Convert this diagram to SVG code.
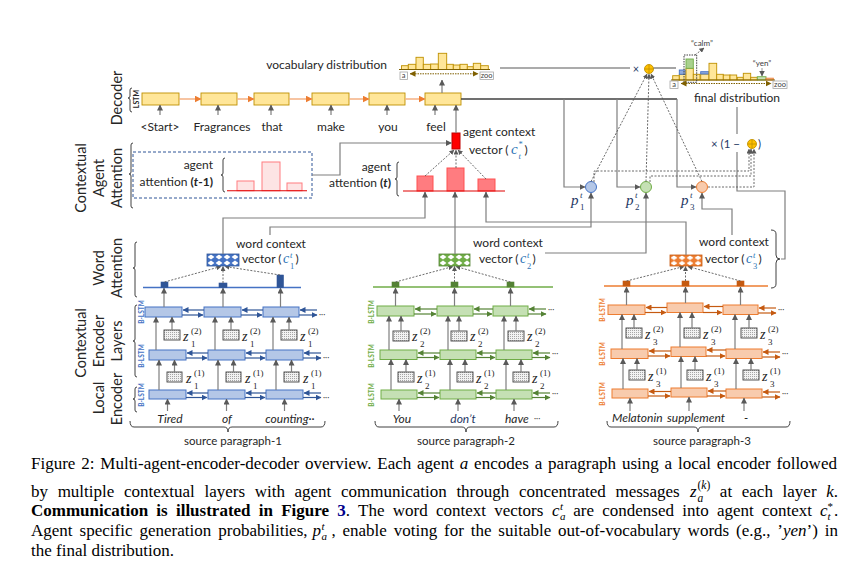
<svg xmlns="http://www.w3.org/2000/svg" width="861" height="582" viewBox="0 0 861 582">
<defs>
<style>
.lb{font-family:Lato,"Liberation Sans",sans-serif;fill:#262626;font-size:12px}
.side{font-size:14.5px;text-anchor:middle}
.it{font-style:italic}
.bl{font-family:Lato,"Liberation Sans",sans-serif;font-weight:bold;font-size:6.5px;text-anchor:middle}
.m{font-family:"Liberation Serif",serif;font-style:italic;font-size:14px;fill:#262626}
.ms{font-family:"Liberation Serif",serif;font-size:9px;font-style:normal}
.cap{font-family:"Liberation Serif","Times New Roman",serif;font-size:17px;fill:#000}
.g{stroke:#7f7f7f;stroke-width:1.2;fill:none}
.ga{stroke:#7f7f7f;stroke-width:1.2;fill:none;marker-end:url(#mg)}
.gd{stroke:#595959;stroke-width:0.9;fill:none;stroke-dasharray:2 1.5;marker-end:url(#md)}
.bx1{fill:#b4c7e7;stroke:#4472c4;stroke-width:1}
.bx2{fill:#c5e0b4;stroke:#70ad47;stroke-width:1}
.bx3{fill:#f8cbad;stroke:#ed7d31;stroke-width:1}
.a1{stroke:#2f5597;stroke-width:1.2;fill:none;marker-end:url(#mb)}
.a2{stroke:#548235;stroke-width:1.2;fill:none;marker-end:url(#mgr)}
.a3{stroke:#c55a11;stroke-width:1.2;fill:none;marker-end:url(#mo)}
.zb{fill:url(#dots);stroke:#404040;stroke-width:0.9}
.yb{fill:#ffe699;stroke:#bf9000;stroke-width:0.9}
.br{fill:none;stroke:#404040;stroke-width:1}
.dots{font-family:Lato,sans-serif;font-size:8px;fill:#404040}
.cb{font-family:"Liberation Serif",serif;font-style:italic;font-size:14px;fill:#2e75b6}
.cs{font-family:"Liberation Serif",serif;font-size:8.5px;fill:#2e75b6}
.pm{font-family:"Liberation Serif",serif;font-style:italic;font-size:15px;fill:#1f3864}
.ps{font-size:9px}
</style>
<marker id="mg" viewBox="0 0 6 6" refX="5.5" refY="3" markerWidth="6" markerHeight="6" markerUnits="userSpaceOnUse" orient="auto"><path d="M0,0 L6,3 L0,6 z" fill="#595959"/></marker>
<marker id="md" viewBox="0 0 6 6" refX="5.5" refY="3" markerWidth="5" markerHeight="5" markerUnits="userSpaceOnUse" orient="auto"><path d="M0,0 L6,3 L0,6 z" fill="#595959"/></marker>
<marker id="mb" viewBox="0 0 6 6" refX="5.5" refY="3" markerWidth="6" markerHeight="6" markerUnits="userSpaceOnUse" orient="auto"><path d="M0,0 L6,3 L0,6 z" fill="#2f5597"/></marker>
<marker id="mgr" viewBox="0 0 6 6" refX="5.5" refY="3" markerWidth="6" markerHeight="6" markerUnits="userSpaceOnUse" orient="auto"><path d="M0,0 L6,3 L0,6 z" fill="#548235"/></marker>
<marker id="mo" viewBox="0 0 6 6" refX="5.5" refY="3" markerWidth="6" markerHeight="6" markerUnits="userSpaceOnUse" orient="auto"><path d="M0,0 L6,3 L0,6 z" fill="#c55a11"/></marker>
<marker id="mor" viewBox="0 0 6 6" refX="5.5" refY="3" markerWidth="7" markerHeight="7" markerUnits="userSpaceOnUse" orient="auto"><path d="M0,0 L6,3 L0,6 z" fill="#ed7d31"/></marker>
<marker id="mbr" viewBox="0 0 6 6" refX="5.5" refY="3" markerWidth="6" markerHeight="6" markerUnits="userSpaceOnUse" orient="auto-start-reverse"><path d="M0,0 L6,3 L0,6 z" fill="#7f6000"/></marker>
<pattern id="pv1" x="207" y="254" width="8" height="6" patternUnits="userSpaceOnUse"><rect width="8" height="6" fill="#4472c4"/><path d="M4,0.6 L7.4,3 L4,5.4 L0.6,3 z" fill="#fff"/></pattern>
<pattern id="pv2" x="439" y="254" width="8" height="6" patternUnits="userSpaceOnUse"><rect width="8" height="6" fill="#70ad47"/><path d="M4,0.6 L7.4,3 L4,5.4 L0.6,3 z" fill="#fff"/></pattern>
<pattern id="pv3" x="670" y="255" width="8" height="5.5" patternUnits="userSpaceOnUse"><rect width="8" height="5.5" fill="#ed7d31"/><path d="M4,0.5 L7.4,2.75 L4,5 L0.6,2.75 z" fill="#fff"/></pattern>
<pattern id="dots" width="2" height="2" patternUnits="userSpaceOnUse"><rect width="2" height="2" fill="#f2f2f2"/><rect width="1" height="1" fill="#a6a6a6"/></pattern>
</defs>
<rect width="861" height="582" fill="#fff"/>

<!-- side labels -->
<g id="side-labels" class="lb">
<text class="lb side" transform="translate(122,98) rotate(-90)">Decoder</text>
<text class="bl" transform="translate(138.5,99) rotate(-90)" style="font-size:7px" fill="#262626">LSTM</text>
<path class="br" d="M132,88 Q130,88 130,90 V96 Q130,98 128,98 Q130,98 130,100 V110 Q130,112 132,112"/>
<text class="lb side" transform="translate(86,178) rotate(-90)">Contextual</text>
<text class="lb side" transform="translate(104,178) rotate(-90)">Agent</text>
<text class="lb side" transform="translate(122,178) rotate(-90)">Attention</text>
<path class="br" d="M133,143 Q131,143 131,145 V172 Q131,174 129,174 Q131,174 131,176 V206 Q131,208 133,208"/>
<text class="lb side" transform="translate(104,268) rotate(-90)">Word</text>
<text class="lb side" transform="translate(122,268) rotate(-90)">Attention</text>
<path class="br" d="M137,242 Q135,242 135,244 V266 Q135,268 133,268 Q135,268 135,270 V295 Q135,297 137,297"/>
<text class="lb side" transform="translate(86,343) rotate(-90)">Contextual</text>
<text class="lb side" transform="translate(104,341) rotate(-90)">Encoder</text>
<text class="lb side" transform="translate(122,341) rotate(-90)">Layers</text>
<path class="br" d="M137,305 Q135,305 135,307 V339 Q135,341 133,341 Q135,341 135,343 V375 Q135,377 137,377"/>
<text class="lb side" transform="translate(104,398) rotate(-90)">Local</text>
<text class="lb side" transform="translate(122,399) rotate(-90)">Encoder</text>
<path class="br" d="M137,387 Q135,387 135,389 V397 Q135,399 133,399 Q135,399 135,401 V410 Q135,412 137,412"/>
</g>

<!-- decoder -->
<g id="decoder">
<rect class="yb" x="142" y="93" width="37" height="12"/>
<rect class="yb" x="201" y="93" width="36" height="12"/>
<rect class="yb" x="254" y="93" width="35" height="12"/>
<rect class="yb" x="312" y="93" width="37" height="12"/>
<rect class="yb" x="369" y="93" width="36" height="12"/>
<rect class="yb" x="425" y="93" width="36" height="12"/>
<g stroke="#f4b183" stroke-width="1.5" fill="none" marker-end="url(#mor)">
<path d="M179,99 H201"/><path d="M237,99 H254"/><path d="M289,99 H312"/><path d="M349,99 H369"/><path d="M405,99 H425"/>
</g>
<g class="lb" text-anchor="middle">
<text x="160" y="131">&lt;Start&gt;</text>
<text x="222" y="131">Fragrances</text>
<text x="272" y="131">that</text>
<text x="331" y="131">make</text>
<text x="388" y="131">you</text>
<text x="436" y="131">feel</text>
</g>
<path class="ga" d="M160,115 V105"/><path class="ga" d="M218,115 V105"/><path class="ga" d="M271,115 V105"/>
<path class="ga" d="M331,115 V105"/><path class="ga" d="M387,115 V105"/><path class="ga" d="M435,115 V105"/>
</g>

<!-- vocabulary distribution -->
<g id="vocab-dist">
<text class="lb" x="387" y="69" text-anchor="end">vocabulary distribution</text>
<rect class="yb" x="401.5" y="65.7" width="6.8" height="3.8"/>
<rect class="yb" x="408.3" y="64.3" width="7.7" height="5.2"/>
<rect class="yb" x="416" y="57.3" width="7.3" height="12.2"/>
<rect class="yb" x="423.3" y="64.3" width="7.4" height="5.2"/>
<rect class="yb" x="430.7" y="64" width="7.6" height="5.5"/>
<rect class="yb" x="438.3" y="53.3" width="8.4" height="16.2"/>
<rect class="yb" x="446.7" y="64.3" width="6.6" height="5.2"/>
<rect class="yb" x="453.3" y="65" width="6.7" height="4.5"/>
<rect class="yb" x="460" y="64.3" width="7.3" height="5.2"/>
<rect class="yb" x="467.3" y="66.7" width="6" height="2.8"/>
<rect class="yb" x="473.3" y="63.3" width="7.4" height="6.2"/>
<rect class="yb" x="480.7" y="65.7" width="7.6" height="3.8"/>
<path d="M399,69.5 H490" stroke="#7f6000" stroke-width="1.2"/>
<rect x="400" y="72" width="7.5" height="7.5" fill="#fff" stroke="#a6a6a6" stroke-width="0.8"/>
<text x="403.7" y="78.3" font-family="Lato,sans-serif" font-size="7.5" fill="#404040" text-anchor="middle">a</text>
<rect x="480" y="72" width="13.5" height="7.5" fill="#fff" stroke="#a6a6a6" stroke-width="0.8"/>
<text x="486.7" y="78.3" font-family="Lato,sans-serif" font-size="7.5" fill="#404040" text-anchor="middle">zoo</text>
<path d="M410,73.8 H478" stroke="#7f6000" stroke-width="1" stroke-dasharray="1.5 1" marker-start="url(#mbr)" marker-end="url(#mbr)"/>
</g>

<!-- final distribution -->
<g id="final-dist">
<rect class="yb" x="672.7" y="75.7" width="6.6" height="4.3"/>
<rect class="yb" x="679.3" y="74.3" width="6.7" height="5.7"/>
<rect x="679.3" y="70" width="6.7" height="4.3" fill="#8faadc" stroke="#4472c4" stroke-width="0.9"/>
<rect class="yb" x="686" y="68.3" width="7.3" height="11.7"/>
<rect x="686" y="59" width="7.3" height="9.3" fill="#a9d18e" stroke="#70ad47" stroke-width="0.9"/>
<rect class="yb" x="693.3" y="74.3" width="6.7" height="5.7"/>
<rect class="yb" x="700.7" y="74" width="8.3" height="6"/>
<rect x="700.7" y="71.7" width="8.3" height="2.3" fill="#8faadc" stroke="#4472c4" stroke-width="0.9"/>
<rect class="yb" x="709" y="63.3" width="7.7" height="16.7"/>
<rect class="yb" x="716.7" y="74.3" width="6.6" height="5.7"/>
<rect class="yb" x="723.3" y="75" width="6.7" height="5"/>
<rect class="yb" x="730" y="75" width="6.7" height="5"/>
<rect class="yb" x="737.3" y="77.3" width="6" height="2.7"/>
<rect class="yb" x="743.3" y="73.3" width="7.4" height="6.7"/>
<rect class="yb" x="750.7" y="77.3" width="6.6" height="2.7"/>
<rect x="757.3" y="76.7" width="8.7" height="3.3" fill="#c5e0b4" stroke="#70ad47" stroke-width="0.9"/>
<rect x="766" y="78.2" width="7.3" height="1.8" fill="#f8cbad" stroke="#ed7d31" stroke-width="0.9"/>
<path d="M671,80 H775" stroke="#7f6000" stroke-width="1.2"/>
<rect x="684" y="55" width="12.7" height="27.3" fill="none" stroke="#404040" stroke-width="1" stroke-dasharray="1.5 1"/>
<text x="702" y="46" font-family="Lato,sans-serif" font-size="8" fill="#404040" text-anchor="middle">“calm”</text>
<path class="gd" d="M695,55 L704,48"/>
<text x="762" y="66" font-family="Lato,sans-serif" font-size="8" fill="#404040" text-anchor="middle">“yen”</text>
<path class="ga" d="M762,68 V76" style="stroke-width:0.8"/>
<rect x="670" y="81" width="8" height="7.5" fill="#fff" stroke="#a6a6a6" stroke-width="0.8"/>
<text x="674" y="87.3" font-family="Lato,sans-serif" font-size="7.5" fill="#404040" text-anchor="middle">a</text>
<rect x="773" y="81" width="14" height="7.5" fill="#fff" stroke="#a6a6a6" stroke-width="0.8"/>
<text x="780" y="87.3" font-family="Lato,sans-serif" font-size="7.5" fill="#404040" text-anchor="middle">zoo</text>
<path d="M681,83.5 H771" stroke="#7f6000" stroke-width="1" stroke-dasharray="1.5 1" marker-start="url(#mbr)" marker-end="url(#mbr)"/>
<text class="lb" x="737" y="102" text-anchor="middle">final distribution</text>
</g>

<!-- mixing operators -->
<g id="mix-top">
<text x="636" y="72.5" font-family="Lato,sans-serif" font-size="11" fill="#1f3864" text-anchor="middle">×</text>
<circle cx="649" cy="69" r="4.5" fill="#ffc000" stroke="#bf9000" stroke-width="0.9"/>
<path d="M649,65 V73 M645,69 H653" stroke="#bf9000" stroke-width="0.8"/>
</g>
<g id="mix-one-minus">
<text x="711" y="148" font-family="Lato,sans-serif" font-size="11.5" fill="#1f3864">× (1 −<tspan x="758">)</tspan></text>
<circle cx="752" cy="144" r="4.5" fill="#ffc000" stroke="#bf9000" stroke-width="0.9"/>
<path d="M752,140 V148 M748,144 H756" stroke="#bf9000" stroke-width="0.8"/>
</g>

<!-- generation probabilities -->
<g id="p1"><circle cx="591" cy="187" r="5.5" fill="#b4c7e7" stroke="#4472c4"/>
<text class="pm" x="571" y="205">p<tspan class="ps" x="580" y="198">t</tspan><tspan class="ps" x="580" y="210" font-style="normal">1</tspan></text></g>
<g id="p2"><circle cx="646" cy="187" r="5.5" fill="#c5e0b4" stroke="#70ad47"/>
<text class="pm" x="626" y="205">p<tspan class="ps" x="635" y="198">t</tspan><tspan class="ps" x="635" y="210" font-style="normal">2</tspan></text></g>
<g id="p3"><circle cx="702" cy="187" r="5.5" fill="#f8cbad" stroke="#ed7d31"/>
<text class="pm" x="681" y="205">p<tspan class="ps" x="690" y="198">t</tspan><tspan class="ps" x="690" y="210" font-style="normal">3</tspan></text></g>

<!-- agent attention -->
<g id="agent-attention-prev">
<rect x="133" y="152" width="179" height="46" fill="none" stroke="#2f5597" stroke-width="1" stroke-dasharray="3 2"/>
<text class="lb" x="213" y="169" text-anchor="end">agent</text>
<text class="lb" x="213" y="186" text-anchor="end">attention <tspan font-weight="bold">(<tspan font-style="italic">t</tspan>-1)</tspan></text>
<path class="br" d="M225,158 Q223,158 223,160 V173 Q223,175 221,175 Q223,175 223,177 V190 Q223,192 225,192"/>
<rect x="237" y="181" width="17" height="9.7" fill="#fde4e4" stroke="#ff7c80"/>
<rect x="262" y="162" width="18" height="28.7" fill="#fde4e4" stroke="#ff7c80"/>
<rect x="287" y="183" width="15" height="7.7" fill="#fde4e4" stroke="#ff7c80"/>
<path d="M227,190.7 H307" stroke="#e00000" stroke-width="1.1"/>
</g>
<g id="agent-attention">
<text class="lb" x="391" y="171" text-anchor="end">agent</text>
<text class="lb" x="391" y="187" text-anchor="end">attention <tspan font-weight="bold">(<tspan font-style="italic">t</tspan>)</tspan></text>
<path class="br" d="M399,162 Q397,162 397,164 V177 Q397,179 395,179 Q397,179 397,181 V194 Q397,196 399,196"/>
<rect x="417" y="176" width="16" height="15" fill="#ff7c80" stroke="#ff5050"/>
<rect x="447" y="168" width="17" height="23" fill="#ff7c80" stroke="#ff5050"/>
<rect x="478" y="179" width="17" height="12" fill="#ff7c80" stroke="#ff5050"/>
<path d="M403,191 H505" stroke="#e00000" stroke-width="1.1"/>
</g>
<g id="agent-context">
<rect x="452" y="133" width="8" height="16" fill="#ff0000" stroke="#c00000"/>
<text class="lb"><tspan x="463" y="136">agent context</tspan><tspan x="469" y="154">vector (</tspan><tspan class="cb" x="511" y="154" style="font-size:15px">c</tspan><tspan class="cs" x="518.5" y="147">*</tspan><tspan class="cs" x="518.5" y="159" font-style="italic">t</tspan><tspan x="524.5" y="154">)</tspan></text>
</g>

<!-- agent 1 -->
<g id="agent1">
<text class="bl" fill="#4472c4" transform="translate(143.5,312) rotate(-90)">B-LSTM</text>
<text class="bl" fill="#4472c4" transform="translate(143.5,356) rotate(-90)">B-LSTM</text>
<text class="bl" fill="#4472c4" transform="translate(143.5,395) rotate(-90)">B-LSTM</text>
<rect class="bx1" x="145" y="307" width="37" height="10"/><rect class="bx1" x="204" y="307" width="37" height="10"/><rect class="bx1" x="263" y="307" width="36" height="10"/>
<rect class="bx1" x="149" y="350" width="37" height="10"/><rect class="bx1" x="208" y="350" width="37" height="10"/><rect class="bx1" x="266" y="350" width="37" height="10"/>
<rect class="bx1" x="149" y="390" width="37" height="9"/><rect class="bx1" x="208" y="390" width="37" height="9"/><rect class="bx1" x="266" y="390" width="37" height="9"/>
<path class="a1" d="M204,310 H183"/><path class="a1" d="M263,310 H242"/><path class="a1" d="M317,310 H300"/>
<path class="a1" d="M182,315 H203"/><path class="a1" d="M241,315 H262"/><path class="a1" d="M299,315 H317"/>
<path class="a1" d="M208,353 H187"/><path class="a1" d="M266,353 H246"/><path class="a1" d="M321,353 H304"/>
<path class="a1" d="M186,358 H207"/><path class="a1" d="M245,358 H265"/><path class="a1" d="M303,358 H321"/>
<path class="a1" d="M208,393 H187"/><path class="a1" d="M266,393 H246"/><path class="a1" d="M321,393 H304"/>
<path class="a1" d="M186,397.5 H207"/><path class="a1" d="M245,397.5 H265"/><path class="a1" d="M303,397.5 H321"/>
<text class="dots" x="319" y="317">···</text><text class="dots" x="323" y="360">···</text><text class="dots" x="323" y="400">···</text>
<path class="ga" d="M167.5,411 V399"/><path class="ga" d="M226.5,411 V399"/><path class="ga" d="M284.5,411 V399"/>
<path class="ga" d="M159,390 V360"/><path class="ga" d="M218,390 V360"/><path class="ga" d="M276,390 V360"/>
<rect class="zb" x="167" y="372" width="15" height="10"/><rect class="zb" x="226" y="372" width="15" height="10"/><rect class="zb" x="284" y="372" width="15" height="10"/>
<path class="ga" d="M174.5,372 V360"/><path class="ga" d="M233.5,372 V360"/><path class="ga" d="M291.5,372 V360"/>
<path class="ga" d="M156,350 V317"/><path class="ga" d="M215,350 V317"/><path class="ga" d="M273,350 V317"/>
<rect class="zb" x="164" y="330" width="16" height="10"/><rect class="zb" x="223" y="330" width="16" height="10"/><rect class="zb" x="281" y="330" width="16" height="10"/>
<path class="ga" d="M172,330 V317"/><path class="ga" d="M231,330 V317"/><path class="ga" d="M289,330 V317"/>
<path class="ga" d="M164,307 V288"/><path class="ga" d="M223,307 V288"/><path class="ga" d="M280.5,307 V288"/>
<text class="m" x="183" y="341">z<tspan class="ms" x="191" y="347">1</tspan><tspan class="ms" x="191" y="334">(2)</tspan></text>
<text class="m" x="242" y="341">z<tspan class="ms" x="250" y="347">1</tspan><tspan class="ms" x="250" y="334">(2)</tspan></text>
<text class="m" x="300" y="341">z<tspan class="ms" x="308" y="347">1</tspan><tspan class="ms" x="308" y="334">(2)</tspan></text>
<text class="m" x="186" y="383">z<tspan class="ms" x="194" y="389">1</tspan><tspan class="ms" x="194" y="376">(1)</tspan></text>
<text class="m" x="245" y="383">z<tspan class="ms" x="253" y="389">1</tspan><tspan class="ms" x="253" y="376">(1)</tspan></text>
<text class="m" x="303" y="383">z<tspan class="ms" x="311" y="389">1</tspan><tspan class="ms" x="311" y="376">(1)</tspan></text>
<path d="M143,287.5 H301" stroke="#4472c4" stroke-width="1.3"/>
<rect x="161" y="282" width="7" height="5.5" fill="#2f5597" stroke="#2f5597" stroke-width="0.6"/>
<rect x="219" y="283" width="8" height="4.5" fill="#2f5597" stroke="#2f5597" stroke-width="0.6"/>
<rect x="277" y="275" width="6.5" height="12.5" fill="#2f5597" stroke="#2f5597" stroke-width="0.6"/>
<path class="gd" d="M164.5,282 L221,266.5"/><path class="gd" d="M223,283 V266.5"/><path class="gd" d="M280,275 L225,266.5"/>
<rect x="207" y="254" width="32" height="12" fill="url(#pv1)" stroke="#2f5597" stroke-width="0.8"/>
<text class="lb" x="236" y="248">word context</text>
<text class="lb" x="242" y="263">vector (<tspan class="cb" x="283" y="263">c</tspan><tspan class="cs" x="290" y="258" font-style="italic">t</tspan><tspan class="cs" x="290" y="268.5">1</tspan><tspan x="295.5" y="263">)</tspan></text>
<g class="lb it" text-anchor="middle"><text x="170" y="423">Tired</text><text x="227" y="423">of</text><text x="290" y="423">counting··</text></g>
<path class="br" d="M130,421 Q130,427 134,427 H224 Q228,427 228,432 Q228,427 232,427 H321 Q325,427 325,421"/>
<text class="lb" x="233" y="445" text-anchor="middle" style="font-size:11.5px">source paragraph-1</text>
</g>

<!-- agent 2 -->
<g id="agent2">
<text class="bl" fill="#70ad47" transform="translate(374,312) rotate(-90)">B-LSTM</text>
<text class="bl" fill="#70ad47" transform="translate(374,356) rotate(-90)">B-LSTM</text>
<text class="bl" fill="#70ad47" transform="translate(374,395) rotate(-90)">B-LSTM</text>
<rect class="bx2" x="377" y="306" width="37" height="10"/><rect class="bx2" x="437" y="306" width="36" height="10"/><rect class="bx2" x="493" y="306" width="35" height="10"/>
<rect class="bx2" x="380" y="350" width="37" height="9.5"/><rect class="bx2" x="440" y="350" width="36" height="9.5"/><rect class="bx2" x="496" y="350" width="36" height="9.5"/>
<rect class="bx2" x="381" y="390" width="36" height="9"/><rect class="bx2" x="440" y="390" width="36" height="9"/><rect class="bx2" x="496" y="390" width="36" height="9"/>
<path class="a2" d="M437,309 H415"/><path class="a2" d="M493,309 H474"/><path class="a2" d="M546,309 H529"/>
<path class="a2" d="M414,314 H436"/><path class="a2" d="M473,314 H492"/><path class="a2" d="M528,314 H546"/>
<path class="a2" d="M440,353 H418"/><path class="a2" d="M496,353 H477"/><path class="a2" d="M550,353 H533"/>
<path class="a2" d="M417,357.5 H439"/><path class="a2" d="M476,357.5 H495"/><path class="a2" d="M532,357.5 H550"/>
<path class="a2" d="M440,393 H418"/><path class="a2" d="M496,393 H477"/><path class="a2" d="M550,393 H533"/>
<path class="a2" d="M417,397.5 H439"/><path class="a2" d="M476,397.5 H495"/><path class="a2" d="M532,397.5 H550"/>
<text class="dots" x="548" y="312">···</text><text class="dots" x="552" y="356">···</text><text class="dots" x="552" y="396">···</text>
<path class="ga" d="M399,411 V399"/><path class="ga" d="M458,411 V399"/><path class="ga" d="M514,411 V399"/>
<path class="ga" d="M391,390 V359.5"/><path class="ga" d="M450,390 V359.5"/><path class="ga" d="M506,390 V359.5"/>
<rect class="zb" x="398" y="372" width="16" height="10"/><rect class="zb" x="457" y="372" width="16" height="10"/><rect class="zb" x="513" y="372" width="16" height="10"/>
<path class="ga" d="M406,372 V359.5"/><path class="ga" d="M465,372 V359.5"/><path class="ga" d="M521,372 V359.5"/>
<path class="ga" d="M389,350 V316"/><path class="ga" d="M448,350 V316"/><path class="ga" d="M504,350 V316"/>
<rect class="zb" x="393" y="331" width="16" height="10"/><rect class="zb" x="451" y="331" width="16" height="10"/><rect class="zb" x="508" y="331" width="16" height="10"/>
<path class="ga" d="M401,331 V316"/><path class="ga" d="M459,331 V316"/><path class="ga" d="M516,331 V316"/>
<path class="ga" d="M395.5,306 V288"/><path class="ga" d="M454.5,306 V288"/><path class="ga" d="M510.5,306 V288"/>
<text class="m" x="412" y="341">z<tspan class="ms" x="420" y="347">2</tspan><tspan class="ms" x="420" y="334">(2)</tspan></text>
<text class="m" x="470" y="341">z<tspan class="ms" x="478" y="347">2</tspan><tspan class="ms" x="478" y="334">(2)</tspan></text>
<text class="m" x="527" y="341">z<tspan class="ms" x="535" y="347">2</tspan><tspan class="ms" x="535" y="334">(2)</tspan></text>
<text class="m" x="417" y="383">z<tspan class="ms" x="425" y="389">2</tspan><tspan class="ms" x="425" y="376">(1)</tspan></text>
<text class="m" x="476" y="383">z<tspan class="ms" x="484" y="389">2</tspan><tspan class="ms" x="484" y="376">(1)</tspan></text>
<text class="m" x="532" y="383">z<tspan class="ms" x="540" y="389">2</tspan><tspan class="ms" x="540" y="376">(1)</tspan></text>
<path d="M373,287 H553" stroke="#70ad47" stroke-width="1.3"/>
<rect x="392" y="282" width="7" height="5" fill="#548235" stroke="#548235" stroke-width="0.6"/>
<rect x="451" y="282" width="7" height="5" fill="#548235" stroke="#548235" stroke-width="0.6"/>
<rect x="507" y="282" width="7" height="5" fill="#548235" stroke="#548235" stroke-width="0.6"/>
<path class="gd" d="M395.5,282 L453,266.5"/><path class="gd" d="M454.5,282 V266.5"/><path class="gd" d="M510.5,282 L456,266.5"/>
<rect x="439" y="254" width="31" height="12" fill="url(#pv2)" stroke="#548235" stroke-width="0.8"/>
<text class="lb" x="473" y="247">word context</text>
<text class="lb" x="479" y="263">vector (<tspan class="cb" x="520" y="263">c</tspan><tspan class="cs" x="527" y="258" font-style="italic">t</tspan><tspan class="cs" x="527" y="268.5">2</tspan><tspan x="532.5" y="263">)</tspan></text>
<g class="lb it"><text x="402" y="423" text-anchor="middle">You</text><text x="463" y="423" text-anchor="middle" style="fill:#1f3864">don’t</text><text x="505" y="423">have</text></g>
<text class="dots" x="534" y="421">···</text>
<path class="br" d="M375,421 Q375,427 379,427 H462 Q466,427 466,432 Q466,427 470,427 H554 Q558,427 558,421"/>
<text class="lb" x="466" y="445" text-anchor="middle" style="font-size:11.5px">source paragraph-2</text>
</g>

<!-- agent 3 -->
<g id="agent3">
<text class="bl" fill="#ed7d31" transform="translate(605,310) rotate(-90)">B-LSTM</text>
<text class="bl" fill="#ed7d31" transform="translate(605,354) rotate(-90)">B-LSTM</text>
<text class="bl" fill="#ed7d31" transform="translate(605,394) rotate(-90)">B-LSTM</text>
<rect class="bx3" x="608" y="305" width="37" height="9.5"/><rect class="bx3" x="667" y="303" width="36" height="9.5"/><rect class="bx3" x="723" y="305" width="35" height="9.5"/>
<rect class="bx3" x="611" y="349" width="37" height="9.5"/><rect class="bx3" x="671" y="347" width="35" height="9.5"/><rect class="bx3" x="726" y="349" width="36" height="9.5"/>
<rect class="bx3" x="612" y="389" width="36" height="9"/><rect class="bx3" x="671" y="388" width="36" height="9"/><rect class="bx3" x="726" y="389" width="36" height="9"/>
<path class="a3" d="M667,307.5 H646"/><path class="a3" d="M723,306.5 H704"/><path class="a3" d="M776,308 H759"/>
<path class="a3" d="M645,312.5 H666"/><path class="a3" d="M703,312.5 H722"/><path class="a3" d="M758,313 H776"/>
<path class="a3" d="M671,351 H649"/><path class="a3" d="M726,350 H707"/><path class="a3" d="M780,352 H763"/>
<path class="a3" d="M648,356 H670"/><path class="a3" d="M706,356 H725"/><path class="a3" d="M762,357 H780"/>
<path class="a3" d="M671,391.5 H649"/><path class="a3" d="M726,391 H708"/><path class="a3" d="M780,392 H763"/>
<path class="a3" d="M648,396 H670"/><path class="a3" d="M707,396 H725"/><path class="a3" d="M762,397 H780"/>
<text class="dots" x="778" y="312">···</text><text class="dots" x="782" y="356">···</text><text class="dots" x="782" y="396">···</text>
<path class="ga" d="M630,411 V398"/><path class="ga" d="M689,411 V397"/><path class="ga" d="M744,411 V398"/>
<path class="ga" d="M623,389 V358.5"/><path class="ga" d="M681,388 V356.5"/><path class="ga" d="M736,389 V358.5"/>
<rect class="zb" x="629" y="370" width="16" height="10"/><rect class="zb" x="687" y="370" width="16" height="10"/><rect class="zb" x="743" y="370" width="16" height="10"/>
<path class="ga" d="M637,370 V358.5"/><path class="ga" d="M695,370 V356.5"/><path class="ga" d="M751,370 V358.5"/>
<path class="ga" d="M622,349 V314.5"/><path class="ga" d="M680,347 V312.5"/><path class="ga" d="M735,349 V314.5"/>
<rect class="zb" x="626" y="328" width="16" height="10"/><rect class="zb" x="684" y="328" width="16" height="10"/><rect class="zb" x="741" y="328" width="16" height="10"/>
<path class="ga" d="M634,328 V314.5"/><path class="ga" d="M692,328 V312.5"/><path class="ga" d="M749,328 V314.5"/>
<path class="ga" d="M626.5,305 V287"/><path class="ga" d="M685.5,303 V287"/><path class="ga" d="M740.5,305 V287"/>
<text class="m" x="645" y="339">z<tspan class="ms" x="653" y="345">3</tspan><tspan class="ms" x="653" y="332">(2)</tspan></text>
<text class="m" x="703" y="339">z<tspan class="ms" x="711" y="345">3</tspan><tspan class="ms" x="711" y="332">(2)</tspan></text>
<text class="m" x="760" y="339">z<tspan class="ms" x="768" y="345">3</tspan><tspan class="ms" x="768" y="332">(2)</tspan></text>
<text class="m" x="648" y="381">z<tspan class="ms" x="656" y="387">3</tspan><tspan class="ms" x="656" y="374">(1)</tspan></text>
<text class="m" x="706" y="381">z<tspan class="ms" x="714" y="387">3</tspan><tspan class="ms" x="714" y="374">(1)</tspan></text>
<text class="m" x="762" y="381">z<tspan class="ms" x="770" y="387">3</tspan><tspan class="ms" x="770" y="374">(1)</tspan></text>
<path d="M604,286 H768" stroke="#ed7d31" stroke-width="1.3"/>
<rect x="623" y="281" width="7" height="5" fill="#c55a11" stroke="#c55a11" stroke-width="0.6"/>
<rect x="682" y="281" width="7" height="5" fill="#c55a11" stroke="#c55a11" stroke-width="0.6"/>
<rect x="737" y="281" width="7" height="5" fill="#c55a11" stroke="#c55a11" stroke-width="0.6"/>
<path class="gd" d="M626.5,281 L684,266.5"/><path class="gd" d="M685.5,281 V266.5"/><path class="gd" d="M740.5,281 L688,266.5"/>
<rect x="670" y="255" width="32" height="11" fill="url(#pv3)" stroke="#c55a11" stroke-width="0.8"/>
<text class="lb" x="699" y="246">word context</text>
<text class="lb" x="705" y="263">vector (<tspan class="cb" x="746" y="263">c</tspan><tspan class="cs" x="753" y="258" font-style="italic">t</tspan><tspan class="cs" x="753" y="268.5">3</tspan><tspan x="758.5" y="263">)</tspan></text>
<path class="br" d="M771,230 Q776,230 776,234 V255 Q776,259 780,259 Q776,259 776,263 V284 Q776,288 771,288"/>
<g class="lb it"><text x="612" y="422">Melatonin</text><text x="667" y="422">supplement</text><text x="744" y="422">-</text></g>
<path class="br" d="M607,421 Q607,427 611,427 H694 Q698,427 698,432 Q698,427 702,427 H786 Q790,427 790,421"/>
<text class="lb" x="702" y="445" text-anchor="middle" style="font-size:11.5px">source paragraph-3</text>
</g>

<!-- connectors -->
<g id="connectors">
<path d="M461,99 H677" stroke="#404040" stroke-width="1.6" fill="none"/>
<path class="ga" d="M564,99 V187 H585"/>
<path class="ga" d="M617,99 V187 H640"/>
<path class="ga" d="M677,99 V187 H696"/>
<path class="ga" d="M442,93 V80"/>
<path class="ga" d="M456,133 V105"/>
<path class="ga" d="M312,175 H340 V143 H451.5"/>
<path d="M500,68 H630" stroke="#595959" stroke-width="1.1" fill="none"/>
<path d="M653.5,68 H676" stroke="#595959" stroke-width="1.1" fill="none"/>
<path class="ga" d="M223,254 V218 H425 V192"/>
<path class="ga" d="M455,254 V192"/>
<path class="ga" d="M686,255 V222 H486 V192"/>
<path class="ga" d="M270,235 V227 H591 V193"/>
<path class="ga" d="M545,253 H646 V193"/>
<path class="ga" d="M732,235 V209 H702 V193"/>
<path class="g" d="M737,107 V134"/>
<path class="g" d="M737,152 V191 H785 V259 H781"/>
<path class="gd" d="M425,176 L454,150"/><path class="gd" d="M456,168 V150"/><path class="gd" d="M486,179 L458,150"/>
<path class="gd" d="M591,181.5 L647,74"/>
<path class="gd" d="M646,181.5 L649,74"/>
<path class="gd" d="M702,181.5 L651,74"/>
<path class="gd" d="M594,182 V171 H749 V149"/>
<path class="gd" d="M650,182 V176 H751 V149"/>
<path class="gd" d="M708,187 H754 V149"/>
</g>

<!-- caption -->
<g id="caption" class="cap">
<text x="31" y="469" word-spacing="1.6">Figure 2: Multi-agent-encoder-decoder overview. Each agent <tspan font-style="italic">a</tspan> encodes a paragraph using a local encoder followed</text>
<text x="31" y="497" word-spacing="5.4">by multiple contextual layers with agent communication through concentrated messages</text>
<text x="690" y="497" font-style="italic">z<tspan x="697.5" y="489" font-size="11.5" font-style="normal">(<tspan font-style="italic">k</tspan>)</tspan><tspan x="697.5" y="501.5" font-size="11.5">a</tspan></text>
<text x="838" y="497" text-anchor="end" word-spacing="5.4">at each layer <tspan font-style="italic">k</tspan>.</text>
<text x="31" y="516" word-spacing="4"><tspan font-weight="bold">Communication is illustrated in Figure <tspan fill="#00008b">3</tspan></tspan>. The word context vectors</text>
<text x="552" y="516" font-style="italic">c<tspan x="560" y="510" font-size="11">t</tspan><tspan x="560" y="520" font-size="11">a</tspan></text>
<text x="812" y="516" text-anchor="end" word-spacing="4">are condensed into agent context</text>
<text x="820" y="516" font-style="italic">c<tspan x="827.5" y="510" font-size="11" font-style="normal">*</tspan><tspan x="827.5" y="520" font-size="11">t</tspan><tspan x="834" y="516" font-style="normal">.</tspan></text>
<text x="31" y="536" word-spacing="2.8">Agent specific generation probabilities,</text>
<text x="312.5" y="536" font-style="italic">p<tspan x="321.5" y="530" font-size="11">t</tspan><tspan x="321.5" y="540" font-size="11">a</tspan></text>
<text x="838" y="536" text-anchor="end" word-spacing="2.6">, enable voting for the suitable out-of-vocabulary words (e.g., ’<tspan font-style="italic">yen</tspan>’) in</text>
<text x="31" y="556">the final distribution.</text>
</g>
</svg>
